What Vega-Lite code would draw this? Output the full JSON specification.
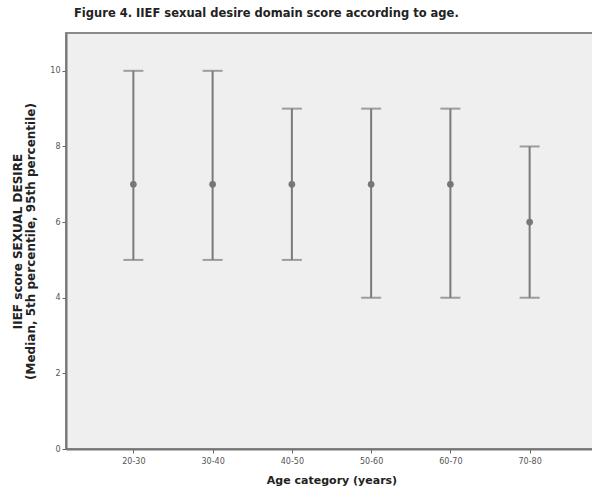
{
  "$schema": "https://vega.github.io/schema/vega-lite/v6.json",
  "autosize": {"type": "none"},
  "width": 531,
  "height": 416,
  "padding": {"left": 66, "top": 33, "right": 0, "bottom": 48},
  "background": "white",
  "title": {
    "text": "Figure 4. IIEF sexual desire domain score according to age.",
    "font": "DejaVu Sans",
    "fontSize": 11.5,
    "fontWeight": "bold",
    "color": "#222",
    "anchor": "start",
    "frame": "group",
    "dx": 8,
    "offset": 14
  },
  "config": {
    "view": {"fill": "#efefef", "stroke": "#8a8a8a", "strokeWidth": 2},
    "font": "DejaVu Sans"
  },
  "data": {
    "values": [
      {"age": "20-30", "median": 7, "p5": 5, "p95": 10},
      {"age": "30-40", "median": 7, "p5": 5, "p95": 10},
      {"age": "40-50", "median": 7, "p5": 5, "p95": 9},
      {"age": "50-60", "median": 7, "p5": 4, "p95": 9},
      {"age": "60-70", "median": 7, "p5": 4, "p95": 9},
      {"age": "70-80", "median": 6, "p5": 4, "p95": 8}
    ]
  },
  "encoding": {
    "x": {
      "field": "age",
      "type": "ordinal",
      "scale": {"type": "point", "padding": 0.85},
      "axis": {
        "title": "Age category (years)",
        "titleFont": "DejaVu Sans",
        "titleFontSize": 11,
        "titleFontWeight": "bold",
        "titleColor": "#222",
        "titlePadding": 9,
        "labelAngle": 0,
        "labelFont": "DejaVu Sans",
        "labelFontSize": 8,
        "labelColor": "#555",
        "tickColor": "#666",
        "tickSize": 4,
        "domainColor": "#777",
        "domainWidth": 2,
        "labelPadding": 4
      }
    }
  },
  "layer": [
    {
      "mark": {"type": "rule", "color": "#7a7a7a", "strokeWidth": 2},
      "encoding": {
        "y": {
          "field": "p5",
          "type": "quantitative",
          "scale": {"domain": [0, 11], "nice": false},
          "axis": {
            "title": ["IIEF score SEXUAL DESIRE", "(Median, 5th percentile, 95th percentile)"],
            "titleFont": "DejaVu Sans",
            "titleFontSize": 12,
            "titleFontWeight": "bold",
            "titleColor": "#222",
            "titleLineHeight": 13,
            "titlePadding": 12,
            "values": [0, 2, 4, 6, 8, 10],
            "grid": false,
            "labelFont": "DejaVu Sans",
            "labelFontSize": 8,
            "labelColor": "#555",
            "tickColor": "#666",
            "tickSize": 4,
            "domainColor": "#777",
            "domainWidth": 2,
            "labelPadding": 2
          }
        },
        "y2": {"field": "p95"}
      }
    },
    {
      "mark": {"type": "tick", "color": "#7a7a7a", "size": 20, "thickness": 2, "orient": "horizontal"},
      "encoding": {"y": {"field": "p5", "type": "quantitative"}}
    },
    {
      "mark": {"type": "tick", "color": "#7a7a7a", "size": 20, "thickness": 2, "orient": "horizontal"},
      "encoding": {"y": {"field": "p95", "type": "quantitative"}}
    },
    {
      "mark": {"type": "point", "filled": true, "color": "#777777", "size": 45, "opacity": 1},
      "encoding": {"y": {"field": "median", "type": "quantitative"}}
    }
  ]
}
